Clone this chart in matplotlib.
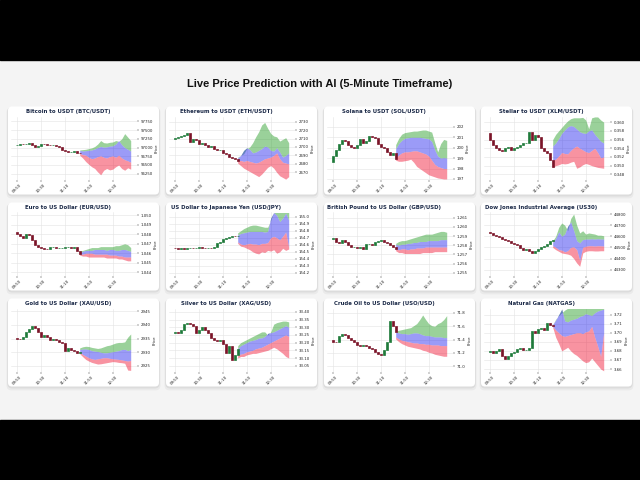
import matplotlib
matplotlib.use("Agg")
import matplotlib.pyplot as plt
from matplotlib.patches import FancyBboxPatch, Rectangle
import numpy as np

# ---- data ----
titles = ["Bitcoin to USDT (BTC/USDT)", "Ethereum to USDT (ETH/USDT)",
          "Solana to USDT (SOL/USDT)", "Stellar to USDT (XLM/USDT)",
          "Euro to US Dollar (EUR/USD)", "US Dollar to Japanese Yen (USD/JPY)",
          "British Pound to US Dollar (GBP/USD)", "Dow Jones Industrial Average (US30)",
          "Gold to US Dollar (XAU/USD)", "Silver to US Dollar (XAG/USD)",
          "Crude Oil to US Dollar (USO/USD)", "Natural Gas (NATGAS)"]

time_labels = ["09:50", "10:30", "11:10", "11:50", "12:30"]

# price = [first open, close0, close1, ...]
btc_price = [97060, 97080, 97100, 97095, 97110, 97120, 97060, 97030, 97050, 97100, 97090, 97070,
             97060, 97075, 97040, 97010, 96930, 96900, 96870, 96880, 96910, 96850, 96830]
btc_hi = [96930, 96940, 96950, 96970, 96990, 97030, 97100, 97200, 97140, 97130, 97150, 97160,
          97200, 97180, 97250, 97400, 97300, 97200]
btc_up = [96920, 96900, 96910, 96920, 96930, 96960, 97000, 97030, 97010, 97020, 97040, 97050,
          97100, 97200, 97080, 97000, 96950, 96900]
btc_dn = [96830, 96800, 96780, 96720, 96680, 96700, 96740, 96760, 96720, 96700, 96740, 96760,
          96720, 96780, 96700, 96650, 96620, 96580]
btc_lo = [96780, 96700, 96600, 96520, 96450, 96400, 96300, 96220, 96350, 96400, 96360, 96380,
          96450, 96500, 96400, 96350, 96420, 96380]
btc_yticks = [96250, 96500, 96750, 97000, 97250, 97500, 97750]
btc_ylim = (96070, 97890)

eth_price = [2709, 2711, 2712, 2713, 2714, 2716, 2706, 2709, 2708, 2703, 2705, 2702, 2700, 2701,
             2698, 2696, 2697, 2693, 2692, 2688, 2687, 2686, 2684]
eth_hi = [2688, 2690, 2692, 2698, 2700, 2705, 2712, 2718, 2726, 2729, 2722, 2716, 2713, 2712,
          2707, 2709, 2711, 2705]
eth_up = [2687, 2690, 2696, 2699, 2697, 2693, 2694, 2696, 2698, 2701, 2700, 2696, 2695, 2699,
          2694, 2688, 2690, 2693]
eth_dn = [2684, 2684, 2683, 2684, 2683, 2682, 2681, 2682, 2684, 2686, 2687, 2688, 2690, 2693,
          2686, 2682, 2681, 2680]
eth_lo = [2681, 2678, 2675, 2673, 2671, 2669, 2667, 2665, 2668, 2672, 2676, 2678, 2675, 2670,
          2666, 2664, 2662, 2665]
eth_yticks = [2670, 2680, 2690, 2700, 2710, 2720, 2730]
eth_ylim = (2661, 2736)

sol_price = [198.6, 199.2, 199.8, 200.4, 200.7, 200.6, 200.3, 200.1, 200.0, 200.3, 200.8, 200.5,
             200.6, 201.1, 201.0, 200.9, 200.4, 200.1, 200.0, 199.6, 199.3, 199.5, 198.9]
sol_hi = [200.3, 200.9, 201.3, 201.45, 201.5, 201.55, 201.6, 201.6, 201.65, 201.7, 201.7, 201.6,
          201.5, 200.5, 199.6, 200.4, 200.8, 200.7]
sol_up = [199.9, 200.4, 200.7, 200.9, 200.95, 201.0, 201.0, 201.0, 201.0, 200.95, 200.9, 200.85,
          200.6, 199.8, 199.2, 199.0, 199.05, 199.0]
sol_dn = [199.0, 199.3, 199.5, 199.6, 199.6, 199.65, 199.7, 199.7, 199.6, 199.5, 199.4, 199.2,
          198.8, 198.4, 198.2, 198.1, 198.0, 198.0]
sol_lo = [198.8, 198.7, 198.7, 198.75, 198.8, 198.9, 198.6, 198.2, 198.0, 197.8, 197.6, 197.4,
          197.3, 197.2, 197.1, 197.05, 197.0, 197.0]
sol_yticks = [197, 198, 199, 200, 201, 202]
sol_ylim = (196.9, 203.0)

xlm_price = [0.3576, 0.3560, 0.3548, 0.3540, 0.3537, 0.3533, 0.3541, 0.3542, 0.3537, 0.3541,
             0.3544, 0.3547, 0.3553, 0.3553, 0.3578, 0.3558, 0.3570, 0.3565, 0.3540, 0.3534,
             0.3530, 0.3512, 0.3497]
xlm_hi = [0.3560, 0.3572, 0.3580, 0.3588, 0.3596, 0.3603, 0.3608, 0.3610, 0.3610, 0.3610,
          0.3611, 0.3605, 0.3585, 0.3610, 0.3612, 0.3612, 0.3605, 0.3600]
xlm_up = [0.3545, 0.3552, 0.3562, 0.3574, 0.3582, 0.3589, 0.3592, 0.3590, 0.3584, 0.3578,
          0.3575, 0.3574, 0.3580, 0.3582, 0.3572, 0.3564, 0.3556, 0.3552]
xlm_dn = [0.3512, 0.3515, 0.3522, 0.3530, 0.3528, 0.3527, 0.3535, 0.3541, 0.3545, 0.3540,
          0.3536, 0.3532, 0.3530, 0.3535, 0.3540, 0.3530, 0.3518, 0.3520]
xlm_lo = [0.3497, 0.3500, 0.3502, 0.3505, 0.3504, 0.3505, 0.3508, 0.3510, 0.3494, 0.3497,
          0.3502, 0.3505, 0.3503, 0.3500, 0.3498, 0.3496, 0.3495, 0.3494]
xlm_yticks = [0.348, 0.350, 0.352, 0.354, 0.356, 0.358, 0.360]
xlm_ylim = (0.3467, 0.3613)

eur_price = [1.0482, 1.0480, 1.0478, 1.0476, 1.0480, 1.0479, 1.0474, 1.0469, 1.0467, 1.0466,
             1.0465, 1.0464, 1.0467, 1.0467, 1.0466, 1.0466, 1.0466, 1.0467, 1.0467, 1.0466,
             1.0467, 1.0462, 1.0459]
eur_hi = [1.0462, 1.0463, 1.0464, 1.0465, 1.0466, 1.0466, 1.0466, 1.0467, 1.0467, 1.0467,
          1.0467, 1.0467, 1.0468, 1.0468, 1.0469, 1.0470, 1.0469, 1.0466]
eur_up = [1.0460, 1.0462, 1.0463, 1.0463, 1.0463, 1.0464, 1.0464, 1.0464, 1.0464, 1.0463,
          1.0464, 1.0464, 1.0463, 1.0463, 1.0464, 1.0464, 1.0463, 1.0462]
eur_dn = [1.0459, 1.0459, 1.0460, 1.0460, 1.0460, 1.0459, 1.0459, 1.0459, 1.0459, 1.0459,
          1.0458, 1.0458, 1.0458, 1.0457, 1.0457, 1.0456, 1.0456, 1.0456]
eur_lo = [1.0458, 1.0457, 1.0457, 1.0456, 1.0456, 1.0456, 1.0456, 1.0456, 1.0456, 1.0455,
          1.0455, 1.0455, 1.0455, 1.0454, 1.0454, 1.0453, 1.0452, 1.0452]
eur_yticks = [1.044, 1.045, 1.046, 1.047, 1.048, 1.049, 1.050]
eur_ylim = (1.0436, 1.0503)

jpy_price = [154.56, 154.55, 154.54, 154.55, 154.54, 154.55, 154.56, 154.55, 154.55, 154.57,
             154.56, 154.55, 154.56, 154.55, 154.57, 154.63, 154.64, 154.68, 154.70, 154.71,
             154.73, 154.72, 154.72]
jpy_hi = [154.77, 154.80, 154.83, 154.85, 154.87, 154.88, 154.88, 154.87, 154.86, 154.85,
          154.85, 154.95, 155.06, 155.06, 155.06, 155.06, 155.06, 155.06]
jpy_up = [154.74, 154.76, 154.77, 154.78, 154.79, 154.79, 154.79, 154.79, 154.79, 154.78,
          154.79, 154.98, 155.06, 155.02, 154.93, 154.98, 155.05, 154.95]
jpy_dn = [154.64, 154.61, 154.60, 154.61, 154.62, 154.61, 154.61, 154.60, 154.62, 154.62,
          154.63, 154.70, 154.72, 154.70, 154.67, 154.72, 154.78, 154.56]
jpy_lo = [154.62, 154.58, 154.57, 154.55, 154.53, 154.50, 154.48, 154.47, 154.50, 154.49,
          154.52, 154.51, 154.53, 154.48, 154.50, 154.55, 154.52, 154.54]
jpy_yticks = [154.2, 154.3, 154.4, 154.5, 154.6, 154.7, 154.8, 154.9, 155.0]
jpy_ylim = (154.155, 155.06)

gbp_price = [1.2587, 1.2588, 1.2584, 1.2582, 1.2586, 1.2583, 1.2580, 1.2578, 1.2578, 1.2577,
             1.2578, 1.2576, 1.2581, 1.2581, 1.2580, 1.2583, 1.2585, 1.2586, 1.2584, 1.2582,
             1.2580, 1.2578, 1.2576]
gbp_hi = [1.2582, 1.2584, 1.2585, 1.2585, 1.2586, 1.2587, 1.2588, 1.2589, 1.2590, 1.2591,
          1.2592, 1.2592, 1.2592, 1.2593, 1.2594, 1.2595, 1.2595, 1.2594]
gbp_up = [1.2581, 1.2580, 1.2581, 1.2581, 1.2582, 1.2582, 1.2583, 1.2583, 1.2584, 1.2584,
          1.2584, 1.2585, 1.2585, 1.2585, 1.2585, 1.2586, 1.2586, 1.2586]
gbp_dn = [1.2576, 1.2575, 1.2576, 1.2576, 1.2575, 1.2576, 1.2576, 1.2577, 1.2577, 1.2577,
          1.2578, 1.2578, 1.2578, 1.2578, 1.2578, 1.2578, 1.2578, 1.2578]
gbp_lo = [1.2574, 1.2572, 1.2572, 1.2571, 1.2571, 1.2571, 1.2571, 1.2571, 1.2571, 1.2572,
          1.2572, 1.2572, 1.2572, 1.2573, 1.2573, 1.2573, 1.2573, 1.2573]
gbp_yticks = [1.255, 1.256, 1.257, 1.258, 1.259, 1.260, 1.261]
gbp_ylim = (1.25466, 1.26155)

us30_price = [44640, 44630, 44615, 44600, 44595, 44580, 44570, 44560, 44540, 44530, 44520, 44495,
              44480, 44490, 44470, 44450, 44470, 44490, 44500, 44515, 44530, 44555, 44565]
us30_hi = [44560, 44600, 44680, 44720, 44700, 44650, 44760, 44800, 44700, 44630, 44650, 44620,
           44630, 44625, 44620, 44610, 44610, 44605]
us30_up = [44545, 44580, 44640, 44600, 44620, 44690, 44730, 44650, 44560, 44540, 44570, 44575,
           44575, 44578, 44575, 44578, 44575, 44575]
us30_dn = [44515, 44500, 44480, 44475, 44460, 44470, 44500, 44505, 44480, 44380, 44500, 44510,
           44515, 44515, 44512, 44515, 44514, 44512]
us30_lo = [44500, 44480, 44465, 44450, 44445, 44440, 44430, 44400, 44360, 44330, 44450, 44465,
           44470, 44470, 44468, 44468, 44470, 44470]
us30_yticks = [44300, 44400, 44500, 44600, 44700, 44800]
us30_ylim = (44243, 44814)

xau_price = [2935.3, 2935.0, 2934.7, 2935.6, 2937.3, 2938.5, 2939.6, 2939.0, 2937.3, 2935.6,
             2936.2, 2935.6, 2934.4, 2935.0, 2934.4, 2933.8, 2933.3, 2930.3, 2931.5, 2931.0,
             2930.5, 2929.8, 2930.2]
xau_hi = [2931.6, 2932.0, 2932.2, 2932.1, 2931.8, 2931.6, 2931.4, 2931.6, 2932.0, 2932.4,
          2932.6, 2933.0, 2933.4, 2933.6, 2933.6, 2933.8, 2935.5, 2936.7]
xau_up = [2931.0, 2931.2, 2931.2, 2931.0, 2930.6, 2930.4, 2930.3, 2930.0, 2929.8, 2929.8,
          2930.0, 2930.2, 2930.4, 2930.6, 2931.0, 2931.1, 2930.6, 2931.0]
xau_dn = [2930.0, 2929.2, 2928.6, 2928.0, 2927.6, 2927.4, 2927.6, 2927.8, 2928.0, 2928.0,
          2927.8, 2927.6, 2927.5, 2927.4, 2927.2, 2927.0, 2926.8, 2927.0]
xau_lo = [2929.5, 2928.4, 2927.4, 2926.8, 2926.3, 2926.0, 2925.7, 2925.8, 2926.0, 2926.2,
          2926.4, 2926.6, 2926.5, 2926.3, 2926.2, 2926.0, 2923.5, 2923.4]
xau_yticks = [2925, 2930, 2935, 2940, 2945]
xau_ylim = (2922.8, 2946.0)

xag_price = [33.26, 33.27, 33.26, 33.28, 33.32, 33.33, 33.32, 33.31, 33.26, 33.28, 33.30, 33.28,
             33.26, 33.23, 33.22, 33.21, 33.215, 33.19, 33.13, 33.18, 33.09, 33.12, 33.16]
xag_hi = [33.18, 33.20, 33.21, 33.22, 33.23, 33.24, 33.25, 33.26, 33.27, 33.27, 33.25, 33.27,
          33.32, 33.33, 33.335, 33.34, 33.34, 33.335]
xag_up = [33.16, 33.18, 33.19, 33.20, 33.21, 33.215, 33.22, 33.23, 33.23, 33.24, 33.26, 33.265,
          33.27, 33.28, 33.29, 33.30, 33.31, 33.30]
xag_dn = [33.12, 33.125, 33.13, 33.14, 33.145, 33.15, 33.16, 33.165, 33.17, 33.18, 33.19, 33.20,
          33.21, 33.22, 33.23, 33.24, 33.25, 33.24]
xag_lo = [33.10, 33.11, 33.11, 33.12, 33.125, 33.13, 33.13, 33.135, 33.14, 33.145, 33.15, 33.16,
          33.17, 33.16, 33.145, 33.13, 33.11, 33.10]
xag_yticks = [33.05, 33.10, 33.15, 33.20, 33.25, 33.30, 33.35, 33.40]
xag_ylim = (33.009, 33.422)

uso_price = [71.40, 71.37, 71.36, 71.46, 71.48, 71.47, 71.42, 71.39, 71.36, 71.32, 71.31, 71.32,
             71.30, 71.28, 71.26, 71.21, 71.18, 71.17, 71.24, 71.36, 71.68, 71.60, 71.52]
uso_hi = [71.53, 71.54, 71.55, 71.56, 71.57, 71.58, 71.61, 71.64, 71.70, 71.77, 71.70, 71.64,
          71.61, 71.60, 71.64, 71.66, 71.70, 71.76]
uso_up = [71.52, 71.50, 71.49, 71.49, 71.48, 71.49, 71.50, 71.50, 71.49, 71.47, 71.46, 71.46,
          71.45, 71.44, 71.44, 71.44, 71.43, 71.43]
uso_dn = [71.44, 71.41, 71.39, 71.38, 71.37, 71.36, 71.35, 71.35, 71.34, 71.34, 71.33, 71.33,
          71.32, 71.32, 71.32, 71.31, 71.31, 71.31]
uso_lo = [71.41, 71.37, 71.34, 71.32, 71.30, 71.29, 71.28, 71.27, 71.26, 71.24, 71.23, 71.21,
          71.20, 71.18, 71.17, 71.16, 71.15, 71.15]
uso_yticks = [71.0, 71.2, 71.4, 71.6, 71.8]
uso_ylim = (70.914, 71.867)

ng_price = [3.679, 3.680, 3.678, 3.680, 3.682, 3.674, 3.671, 3.674, 3.678, 3.679, 3.682, 3.683,
            3.681, 3.681, 3.683, 3.702, 3.700, 3.704, 3.705, 3.703, 3.711, 3.709, 3.707]
ng_hi = [3.709, 3.715, 3.719, 3.722, 3.725, 3.727, 3.727, 3.727, 3.727, 3.727, 3.727, 3.727,
         3.727, 3.727, 3.727, 3.727, 3.727, 3.727]
ng_up = [3.709, 3.714, 3.720, 3.726, 3.713, 3.712, 3.714, 3.715, 3.716, 3.718, 3.719, 3.721,
         3.720, 3.719, 3.722, 3.724, 3.725, 3.726]
ng_dn = [3.707, 3.703, 3.700, 3.697, 3.696, 3.697, 3.698, 3.699, 3.700, 3.700, 3.699, 3.701,
         3.702, 3.707, 3.695, 3.685, 3.674, 3.700]
ng_lo = [3.706, 3.695, 3.688, 3.680, 3.682, 3.684, 3.680, 3.677, 3.675, 3.672, 3.669, 3.667,
         3.668, 3.672, 3.668, 3.664, 3.660, 3.658]
ng_yticks = [3.66, 3.67, 3.68, 3.69, 3.70, 3.71, 3.72]
ng_ylim = (3.6567, 3.7268)

panels = [
    (btc_price, btc_hi, btc_up, btc_dn, btc_lo, btc_yticks, btc_ylim, "{:.0f}"),
    (eth_price, eth_hi, eth_up, eth_dn, eth_lo, eth_yticks, eth_ylim, "{:.0f}"),
    (sol_price, sol_hi, sol_up, sol_dn, sol_lo, sol_yticks, sol_ylim, "{:.0f}"),
    (xlm_price, xlm_hi, xlm_up, xlm_dn, xlm_lo, xlm_yticks, xlm_ylim, "{:.3f}"),
    (eur_price, eur_hi, eur_up, eur_dn, eur_lo, eur_yticks, eur_ylim, "{:.3f}"),
    (jpy_price, jpy_hi, jpy_up, jpy_dn, jpy_lo, jpy_yticks, jpy_ylim, "{:.1f}"),
    (gbp_price, gbp_hi, gbp_up, gbp_dn, gbp_lo, gbp_yticks, gbp_ylim, "{:.3f}"),
    (us30_price, us30_hi, us30_up, us30_dn, us30_lo, us30_yticks, us30_ylim, "{:.0f}"),
    (xau_price, xau_hi, xau_up, xau_dn, xau_lo, xau_yticks, xau_ylim, "{:.0f}"),
    (xag_price, xag_hi, xag_up, xag_dn, xag_lo, xag_yticks, xag_ylim, "{:.2f}"),
    (uso_price, uso_hi, uso_up, uso_dn, uso_lo, uso_yticks, uso_ylim, "{:.1f}"),
    (ng_price, ng_hi, ng_up, ng_dn, ng_lo, ng_yticks, ng_ylim, "{:.2f}"),
]

# ---- page ----
fig = plt.figure(figsize=(6.4, 4.8), dpi=100)
fig.patch.set_facecolor("#f4f4f4")
bg = fig.add_axes([0, 0, 1, 1])
bg.set_xlim(0, 640)
bg.set_ylim(480, 0)
bg.axis("off")
bg.add_patch(Rectangle((0, 0), 640, 60, color="black"))
bg.add_patch(Rectangle((0, 420), 640, 60, color="black"))
bg.text(320, 84, "Live Price Prediction with AI (5-Minute Timeframe)", ha="center", va="center",
        fontsize=8, fontweight="bold", family="Liberation Sans", color="#111111")

col_x = [8, 166, 324, 481]
row_y = [106.5, 202.5, 298.5]
cw, ch = 151, 88

for k, (price, hi, up, dn, lo, yt, yl, fmt) in enumerate(panels):
    cx = col_x[k % 4]
    cy = row_y[k // 4]
    # soft card shadow, then the card
    for off, a in [(3.0, 0.04), (1.5, 0.06)]:
        bg.add_patch(FancyBboxPatch((cx - off * 0.5, cy + off * 0.3), cw + off, ch + off,
                                    boxstyle="round,pad=0,rounding_size=5",
                                    fc="black", ec="none", alpha=a))
    bg.add_patch(FancyBboxPatch((cx, cy), cw, ch, boxstyle="round,pad=0,rounding_size=4",
                                fc="white", ec="none"))
    bg.text(cx + 60, cy + 5, titles[k], ha="center", va="center", fontsize=3.9,
            fontweight="bold", color="#1c2a48")

    ax = fig.add_axes([(cx + 3) / 640, 1 - (cy + 73.5) / 480, 126 / 640, 63.5 / 480])
    ax.set_facecolor("white")
    for s in ax.spines.values():
        s.set_visible(False)
    ax.grid(True, color="#e4e4e4", lw=0.4)
    ax.set_axisbelow(True)

    o = np.array(price[:-1])
    c = np.array(price[1:])
    x = np.arange(len(c))
    cols = np.where(c >= o, "#1f7a3a", "#7b1428")
    ax.bar(x, np.abs(c - o), bottom=np.minimum(o, c), width=0.7, color=cols,
           edgecolor=cols, linewidth=0.5, zorder=3)

    fx = np.arange(len(c) - 1, len(c) - 1 + len(hi))
    ax.fill_between(fx, up, hi, color="#1f9a1f", alpha=0.45, lw=0, zorder=2)
    ax.fill_between(fx, dn, up, color="#2222ee", alpha=0.45, lw=0, zorder=2)
    ax.fill_between(fx, lo, dn, color="#f01030", alpha=0.45, lw=0, zorder=2)

    ax.set_xlim(-1.9, 40.1)
    ax.set_ylim(*yl)
    ax.set_xticks([0, 8, 16, 24, 32])
    ax.set_xticklabels(time_labels, rotation=45, ha="center")
    ax.set_yticks(yt)
    ax.set_yticklabels([fmt.format(v) for v in yt])
    ax.yaxis.tick_right()
    ax.yaxis.set_label_position("right")
    ax.set_ylabel("Price", fontsize=2.8, labelpad=1.5, color="#222222")
    ax.tick_params(labelsize=2.8, length=1.2, width=0.3, pad=1.2, colors="#222222")

fig.savefig("out.png", dpi=100, facecolor=fig.get_facecolor())
